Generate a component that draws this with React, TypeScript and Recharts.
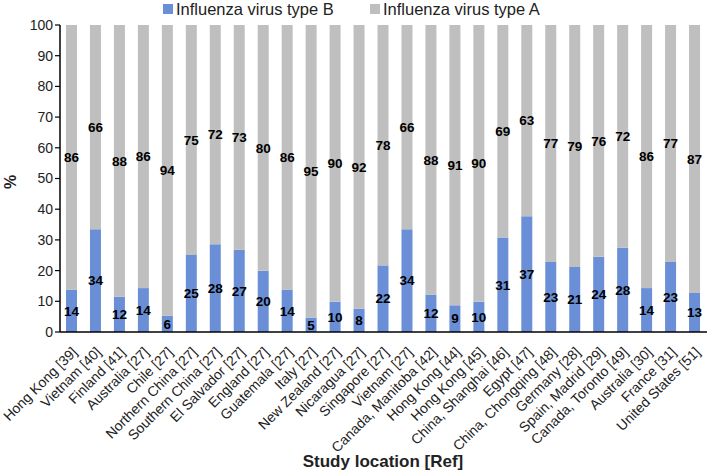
import { BarChart, Bar, XAxis, YAxis, LabelList } from "recharts";

const categories = [
  "Hong Kong [39]", "Vietnam [40]", "Finland [41]", "Australia [27]", "Chile [27]",
  "Northern China [27]", "Southern China [27]", "El Salvador [27]", "England [27]",
  "Guatemala [27]", "Italy [27]", "New Zealand [27]", "Nicaragua [27]", "Singapore [27]",
  "Vietnam [27]", "Canada, Manitoba [42]", "Hong Kong [44]", "Hong Kong [45]",
  "China, Shanghai [46]", "Egypt [47]", "China, Chongqing [48]", "Germany [28]",
  "Spain, Madrid [29]", "Canada, Toronto [49]", "Australia [30]", "France [31]",
  "United States [51]",
];

// bar heights (%)
const typeB = [
  13.8, 33.5, 11.5, 14.3, 5.3, 25.1, 28.6, 26.8, 20.0, 13.8, 4.7, 9.9, 7.6, 21.7,
  33.5, 12.2, 8.7, 9.9, 30.8, 37.7, 22.8, 21.2, 24.5, 27.5, 14.3, 22.8, 12.7,
];
const typeA = [
  86.2, 66.5, 88.5, 85.7, 94.7, 74.9, 71.4, 73.2, 80.0, 86.2, 95.3, 90.1, 92.4, 78.3,
  66.5, 87.8, 91.3, 90.1, 69.2, 62.3, 77.2, 78.8, 75.5, 72.5, 85.7, 77.2, 87.3,
];

// printed labels
const labelB = [14, 34, 12, 14, 6, 25, 28, 27, 20, 14, 5, 10, 8, 22, 34, 12, 9, 10, 31, 37, 23, 21, 24, 28, 14, 23, 13];
const labelA = [86, 66, 88, 86, 94, 75, 72, 73, 80, 86, 95, 90, 92, 78, 66, 88, 91, 90, 69, 63, 77, 79, 76, 72, 86, 77, 87];

const yTicks = [0, 10, 20, 30, 40, 50, 60, 70, 80, 90, 100];

const data = categories.map((name, i) => ({
  name,
  b: typeB[i],
  a: typeA[i],
  lb: labelB[i],
  la: labelA[i],
}));

const FONT = "'Liberation Sans', Arial, sans-serif";
const BLUE = "#6b8fd6";
const GREY = "#bfbfbf";

function XTick({ x, y, payload }: any) {
  return (
    <g transform={`translate(${x + 6},${y + 13}) rotate(-45)`}>
      <text x={0} y={0} textAnchor="end" fontSize={14} fill="#222" fontFamily={FONT}>
        {payload.value}
      </text>
    </g>
  );
}

function LegendBox() {
  const item = (color: string, text: string, left: number) => (
    <div style={{ position: "absolute", left, top: 0, display: "flex", alignItems: "center" }}>
      <span style={{ width: 10, height: 10, background: color, marginRight: 3 }} />
      <span style={{ fontSize: 16.5, color: "#222", lineHeight: "18px" }}>{text}</span>
    </div>
  );
  return (
    <div style={{ position: "absolute", left: 0, top: 0, width: 709, height: 20 }}>
      {item(BLUE, "Influenza virus type B", 163)}
      {item(GREY, "Influenza virus type A", 370)}
    </div>
  );
}

export default function App() {
  return (
    <div style={{ position: "absolute", left: 0, top: 0, width: 709, height: 472, fontFamily: FONT, background: "#fff" }}>
      <BarChart
        width={709}
        height={472}
        data={data}
        margin={{ top: 25, right: 2, bottom: 0, left: 15 }}
        barSize={11}
      >
        <XAxis
          dataKey="name"
          interval={0}
          height={140}
          tick={<XTick />}
          tickLine={false}
          axisLine={{ stroke: "#000", strokeWidth: 1.5 }}
        />
        <YAxis
          width={45}
          domain={[0, 100]}
          ticks={yTicks}
          interval={0}
          tickSize={5}
          tickLine={{ stroke: "#000", strokeWidth: 1.2 }}
          axisLine={{ stroke: "#000", strokeWidth: 1.5 }}
          tick={{ fontSize: 14, fill: "#222", fontFamily: FONT }}
        />
        <Bar dataKey="b" stackId="s" fill={BLUE} isAnimationActive={false}>
          <LabelList dataKey="lb" position="center" fill="#000" fontSize={13.5} fontWeight="bold" fontFamily={FONT} />
        </Bar>
        <Bar dataKey="a" stackId="s" fill={GREY} isAnimationActive={false}>
          <LabelList dataKey="la" position="center" fill="#000" fontSize={13.5} fontWeight="bold" fontFamily={FONT} />
        </Bar>
      </BarChart>
      <LegendBox />
      <div
        style={{
          position: "absolute",
          left: 11,
          top: 182,
          transform: "translate(-50%, -50%) rotate(-90deg)",
          fontSize: 16,
          fontWeight: "bold",
          color: "#222",
        }}
      >
        %
      </div>
      <div
        style={{
          position: "absolute",
          left: 383,
          top: 462,
          transform: "translate(-50%, -50%)",
          fontSize: 17,
          fontWeight: "bold",
          color: "#222",
          whiteSpace: "nowrap",
        }}
      >
        Study location [Ref]
      </div>
    </div>
  );
}
